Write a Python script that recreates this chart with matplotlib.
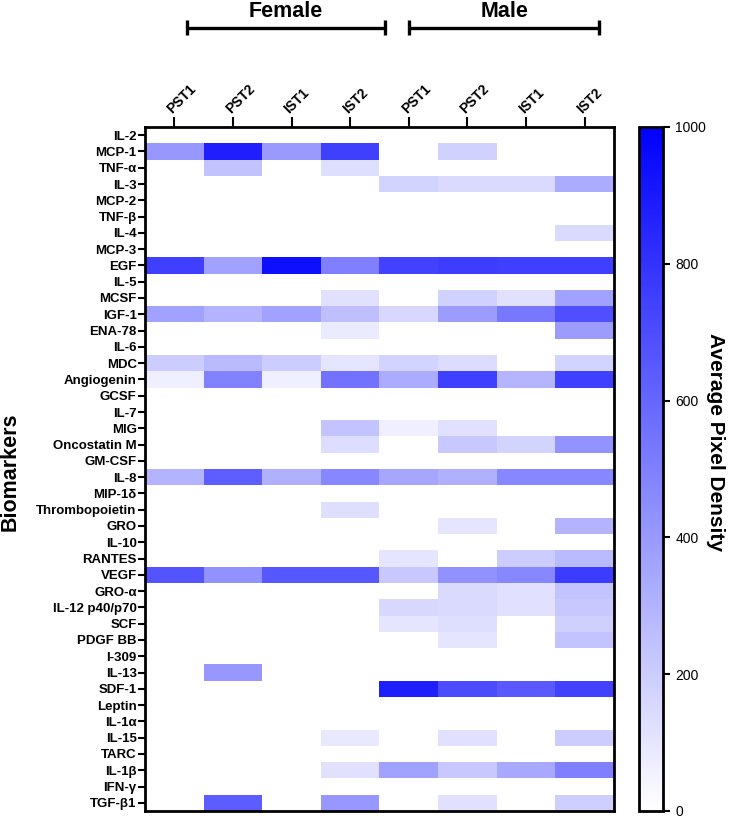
import matplotlib
matplotlib.use("Agg")
import matplotlib.pyplot as plt
import matplotlib.transforms as mtransforms
import numpy as np
from matplotlib.colors import LinearSegmentedColormap
from matplotlib.lines import Line2D

plt.rcParams['font.family'] = ['Liberation Sans', 'DejaVu Sans']

# columns: Female PST1, PST2, IST1, IST2 | Male PST1, PST2, IST1, IST2
col_labels = ['PST1', 'PST2', 'IST1', 'IST2', 'PST1', 'PST2', 'IST1', 'IST2']
biomarkers = ['IL-2', 'MCP-1', 'TNF-α', 'IL-3', 'MCP-2', 'TNF-β', 'IL-4', 'MCP-3',
              'EGF', 'IL-5', 'MCSF', 'IGF-1', 'ENA-78', 'IL-6', 'MDC', 'Angiogenin',
              'GCSF', 'IL-7', 'MIG', 'Oncostatin M', 'GM-CSF', 'IL-8', 'MIP-1δ',
              'Thrombopoietin', 'GRO', 'IL-10', 'RANTES', 'VEGF', 'GRO-α',
              'IL-12 p40/p70', 'SCF', 'PDGF BB', 'I-309', 'IL-13', 'SDF-1', 'Leptin',
              'IL-1α', 'IL-15', 'TARC', 'IL-1β', 'IFN-γ', 'TGF-β1']

female_pst1 = [0, 410, 0, 0, 0, 0, 0, 0, 750, 0, 0, 370, 0, 0, 200, 65, 0, 0, 0, 0, 0,
               300, 0, 0, 0, 0, 0, 670, 0, 0, 0, 0, 0, 0, 0, 0, 0, 0, 0, 0, 0, 0]
female_pst2 = [0, 880, 240, 0, 0, 0, 0, 0, 370, 0, 0, 300, 0, 0, 270, 490, 0, 0, 0, 0, 0,
               630, 0, 0, 0, 0, 0, 430, 0, 0, 0, 0, 0, 410, 0, 0, 0, 0, 0, 0, 0, 640]
female_ist1 = [0, 400, 0, 0, 0, 0, 0, 0, 940, 0, 0, 370, 0, 0, 200, 65, 0, 0, 0, 0, 0,
               310, 0, 0, 0, 0, 0, 660, 0, 0, 0, 0, 0, 0, 0, 0, 0, 0, 0, 0, 0, 0]
female_ist2 = [0, 750, 130, 0, 0, 0, 0, 0, 500, 0, 120, 250, 80, 0, 105, 550, 0, 0, 235, 135, 0,
               470, 0, 130, 0, 0, 0, 660, 0, 0, 0, 0, 0, 0, 0, 0, 0, 90, 0, 120, 0, 410]
male_pst1 = [0, 0, 0, 170, 0, 0, 0, 0, 740, 0, 0, 160, 0, 0, 170, 330, 0, 0, 65, 0, 0,
             350, 0, 0, 0, 0, 105, 215, 0, 155, 105, 0, 0, 0, 880, 0, 0, 0, 0, 370, 0, 0]
male_pst2 = [0, 180, 0, 145, 0, 0, 0, 0, 760, 0, 180, 390, 0, 0, 140, 750, 0, 0, 120, 215, 0,
             310, 0, 0, 105, 0, 0, 430, 145, 145, 130, 105, 0, 0, 705, 0, 0, 120, 0, 215, 0, 120]
male_ist1 = [0, 0, 0, 145, 0, 0, 0, 0, 750, 0, 120, 530, 0, 0, 0, 290, 0, 0, 0, 170, 0,
             470, 0, 0, 0, 0, 200, 470, 120, 120, 0, 0, 0, 0, 650, 0, 0, 0, 0, 340, 0, 0]
male_ist2 = [0, 0, 0, 330, 0, 0, 145, 0, 750, 0, 370, 690, 390, 0, 175, 750, 0, 0, 0, 420, 0,
             470, 0, 0, 300, 0, 270, 765, 235, 215, 185, 235, 0, 0, 745, 0, 0, 200, 0, 500, 0, 195]

data = np.array([female_pst1, female_pst2, female_ist1, female_ist2,
                 male_pst1, male_pst2, male_ist1, male_ist2]).T

cmap = LinearSegmentedColormap.from_list('wb', ['#ffffff', '#0000ff'])

W, H = 744, 818
fig = plt.figure(figsize=(W / 100, H / 100), dpi=100)
ax = fig.add_axes([145 / W, 1 - 811 / H, (614 - 145) / W, (811 - 127) / H])
im = ax.imshow(data, cmap=cmap, vmin=0, vmax=1000, aspect='auto', interpolation='nearest')

ax.set_yticks(np.arange(len(biomarkers)))
ax.set_yticklabels(biomarkers, fontsize=9.5, fontweight='bold')
ax.set_xticks(np.arange(len(col_labels)))
ax.xaxis.tick_top()
ax.set_xticklabels(col_labels, fontsize=10, fontweight='bold', rotation=45,
                   ha='left', va='bottom', rotation_mode='anchor')
ax.tick_params(axis='y', length=5, width=1.5, pad=1)
ax.tick_params(axis='x', length=7, width=1.5, pad=1)
for s in ax.spines.values():
    s.set_linewidth(2)

# group brackets above the columns
btrans = mtransforms.blended_transform_factory(ax.transData, fig.transFigure)
bracket_y = 1 - 27.5 / H
cap = 7.5 / H
for x0, x1, name in [(0.217, 3.6, 'Female'), (4.0, 7.25, 'Male')]:
    for xs, ys in [([x0, x1], [bracket_y, bracket_y]),
                   ([x0, x0], [bracket_y - cap, bracket_y + cap]),
                   ([x1, x1], [bracket_y - cap, bracket_y + cap])]:
        ln = Line2D(xs, ys, color='black', lw=2.4, solid_capstyle='butt', transform=btrans)
        ln.set_clip_on(False)
        fig.add_artist(ln)
    fig.text((x0 + x1) / 2, 1 - 17 / H, name, fontsize=15.5, fontweight='bold',
             ha='center', va='baseline', transform=btrans)

# colorbar
cax = fig.add_axes([639 / W, 1 - 811 / H, 24 / W, (811 - 127) / H])
cb = fig.colorbar(im, cax=cax, ticks=[0, 200, 400, 600, 800, 1000])
cb.outline.set_linewidth(2)
cax.tick_params(length=5, width=1.5, labelsize=10, pad=4)

fig.text(716 / W, 1 - 442 / H, 'Average Pixel Density', rotation=-90, fontsize=15,
         fontweight='bold', ha='center', va='center')
fig.text(10 / W, 1 - 472 / H, 'Biomarkers', rotation=90, fontsize=15.5,
         fontweight='bold', ha='center', va='center')

fig.savefig('out.png', dpi=100)
